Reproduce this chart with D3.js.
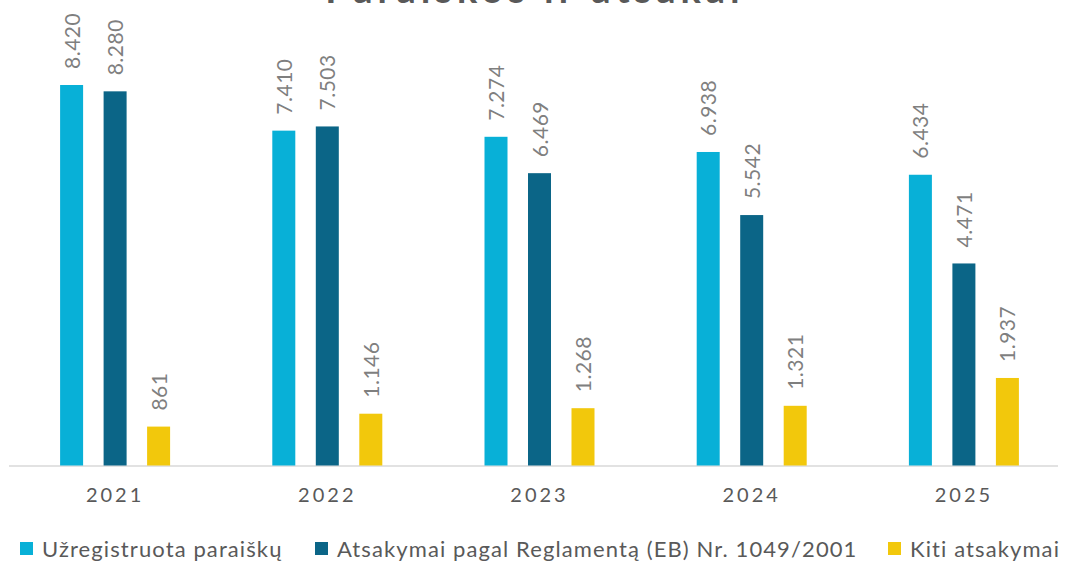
<!DOCTYPE html>
<html>
<head>
<meta charset="utf-8">
<script src="https://cdn.jsdelivr.net/npm/d3@7"></script>
<style>
  body { margin: 0; background: #fff; }
  text { font-family: Lato, "Open Sans", sans-serif; }
</style>
</head>
<body>
<div class="canvas"></div>
<script>
const years = ['2021', '2022', '2023', '2024', '2025'];
const seriesNames = ['Užregistruota paraiškų', 'Atsakymai pagal Reglamentą (EB) Nr. 1049/2001', 'Kiti atsakymai'];
const registered = [8420, 7410, 7274, 6938, 6434];
const regulation = [8280, 7503, 6469, 5542, 4471];
const other = [861, 1146, 1268, 1321, 1937];
const colors = ['#08b0d7', '#0b6587', '#f2c80c'];

const dims = { width: 1067, height: 561 };
const margin = { left: 9, right: -3, base: 465.5 };

const svg = d3.select('.canvas')
    .append('svg')
    .attr('width', dims.width)
    .attr('height', dims.height);

// title is clipped at the top in the reference
svg.append('text')
    .attr('x', 535)
    .attr('y', 3)
    .attr('text-anchor', 'middle')
    .attr('font-size', 38)
    .attr('font-weight', 'bold')
    .attr('letter-spacing', 5)
    .attr('fill', '#595959')
    .text('Paraiškos ir atsakai');

const x = d3.scaleBand()
    .domain(years)
    .range([margin.left, dims.width - margin.right]);

const y = d3.scaleLinear()
    .domain([0, 9000])
    .range([margin.base, 58.8]);

const barW = 23, step = 43.5;
const data = years.map((yr, i) => ({
    year: yr,
    values: [registered[i], regulation[i], other[i]]
}));

const fmt = v => v >= 1000 ? d3.format(',')(v).replace(',', '.') : String(v);

// axis line
svg.append('line')
    .attr('x1', margin.left)
    .attr('x2', 1058)
    .attr('y1', margin.base + 0.5)
    .attr('y2', margin.base + 0.5)
    .attr('stroke', '#d9d9d9')
    .attr('stroke-width', 1.5);

const groups = svg.selectAll('g.year')
    .data(data)
    .enter()
    .append('g')
    .attr('class', 'year')
    .attr('transform', d => `translate(${x(d.year) + x.bandwidth() / 2}, 0)`);

groups.selectAll('rect')
    .data(d => d.values)
    .enter()
    .append('rect')
    .attr('x', (d, i) => (i - 1) * step - barW / 2)
    .attr('y', d => y(d))
    .attr('width', barW)
    .attr('height', d => margin.base - y(d))
    .attr('fill', (d, i) => colors[i]);

groups.selectAll('text.val')
    .data(d => d.values)
    .enter()
    .append('text')
    .attr('class', 'val')
    .attr('transform', (d, i) => `translate(${(i - 1) * step + 8}, ${y(d) - 16}) rotate(-90)`)
    .attr('font-size', 21)
    .attr('letter-spacing', 0.5)
    .attr('fill', '#7f7f7f')
    .text(d => fmt(d));

// x axis labels
groups.append('text')
    .attr('y', 502)
    .attr('text-anchor', 'middle')
    .attr('font-size', 20)
    .attr('letter-spacing', 3)
    .attr('fill', '#595959')
    .text(d => d.year);

// legend
const legendX = [20, 315, 888];
const legend = svg.selectAll('g.legend')
    .data(seriesNames)
    .enter()
    .append('g')
    .attr('class', 'legend')
    .attr('transform', (d, i) => `translate(${legendX[i]}, 542)`);

legend.append('rect')
    .attr('width', 13)
    .attr('height', 13)
    .attr('fill', (d, i) => colors[i]);

legend.append('text')
    .attr('x', 22)
    .attr('y', 15)
    .attr('font-size', 22)
    .attr('letter-spacing', 1.1)
    .attr('fill', '#595959')
    .text(d => d);
</script>
</body>
</html>
